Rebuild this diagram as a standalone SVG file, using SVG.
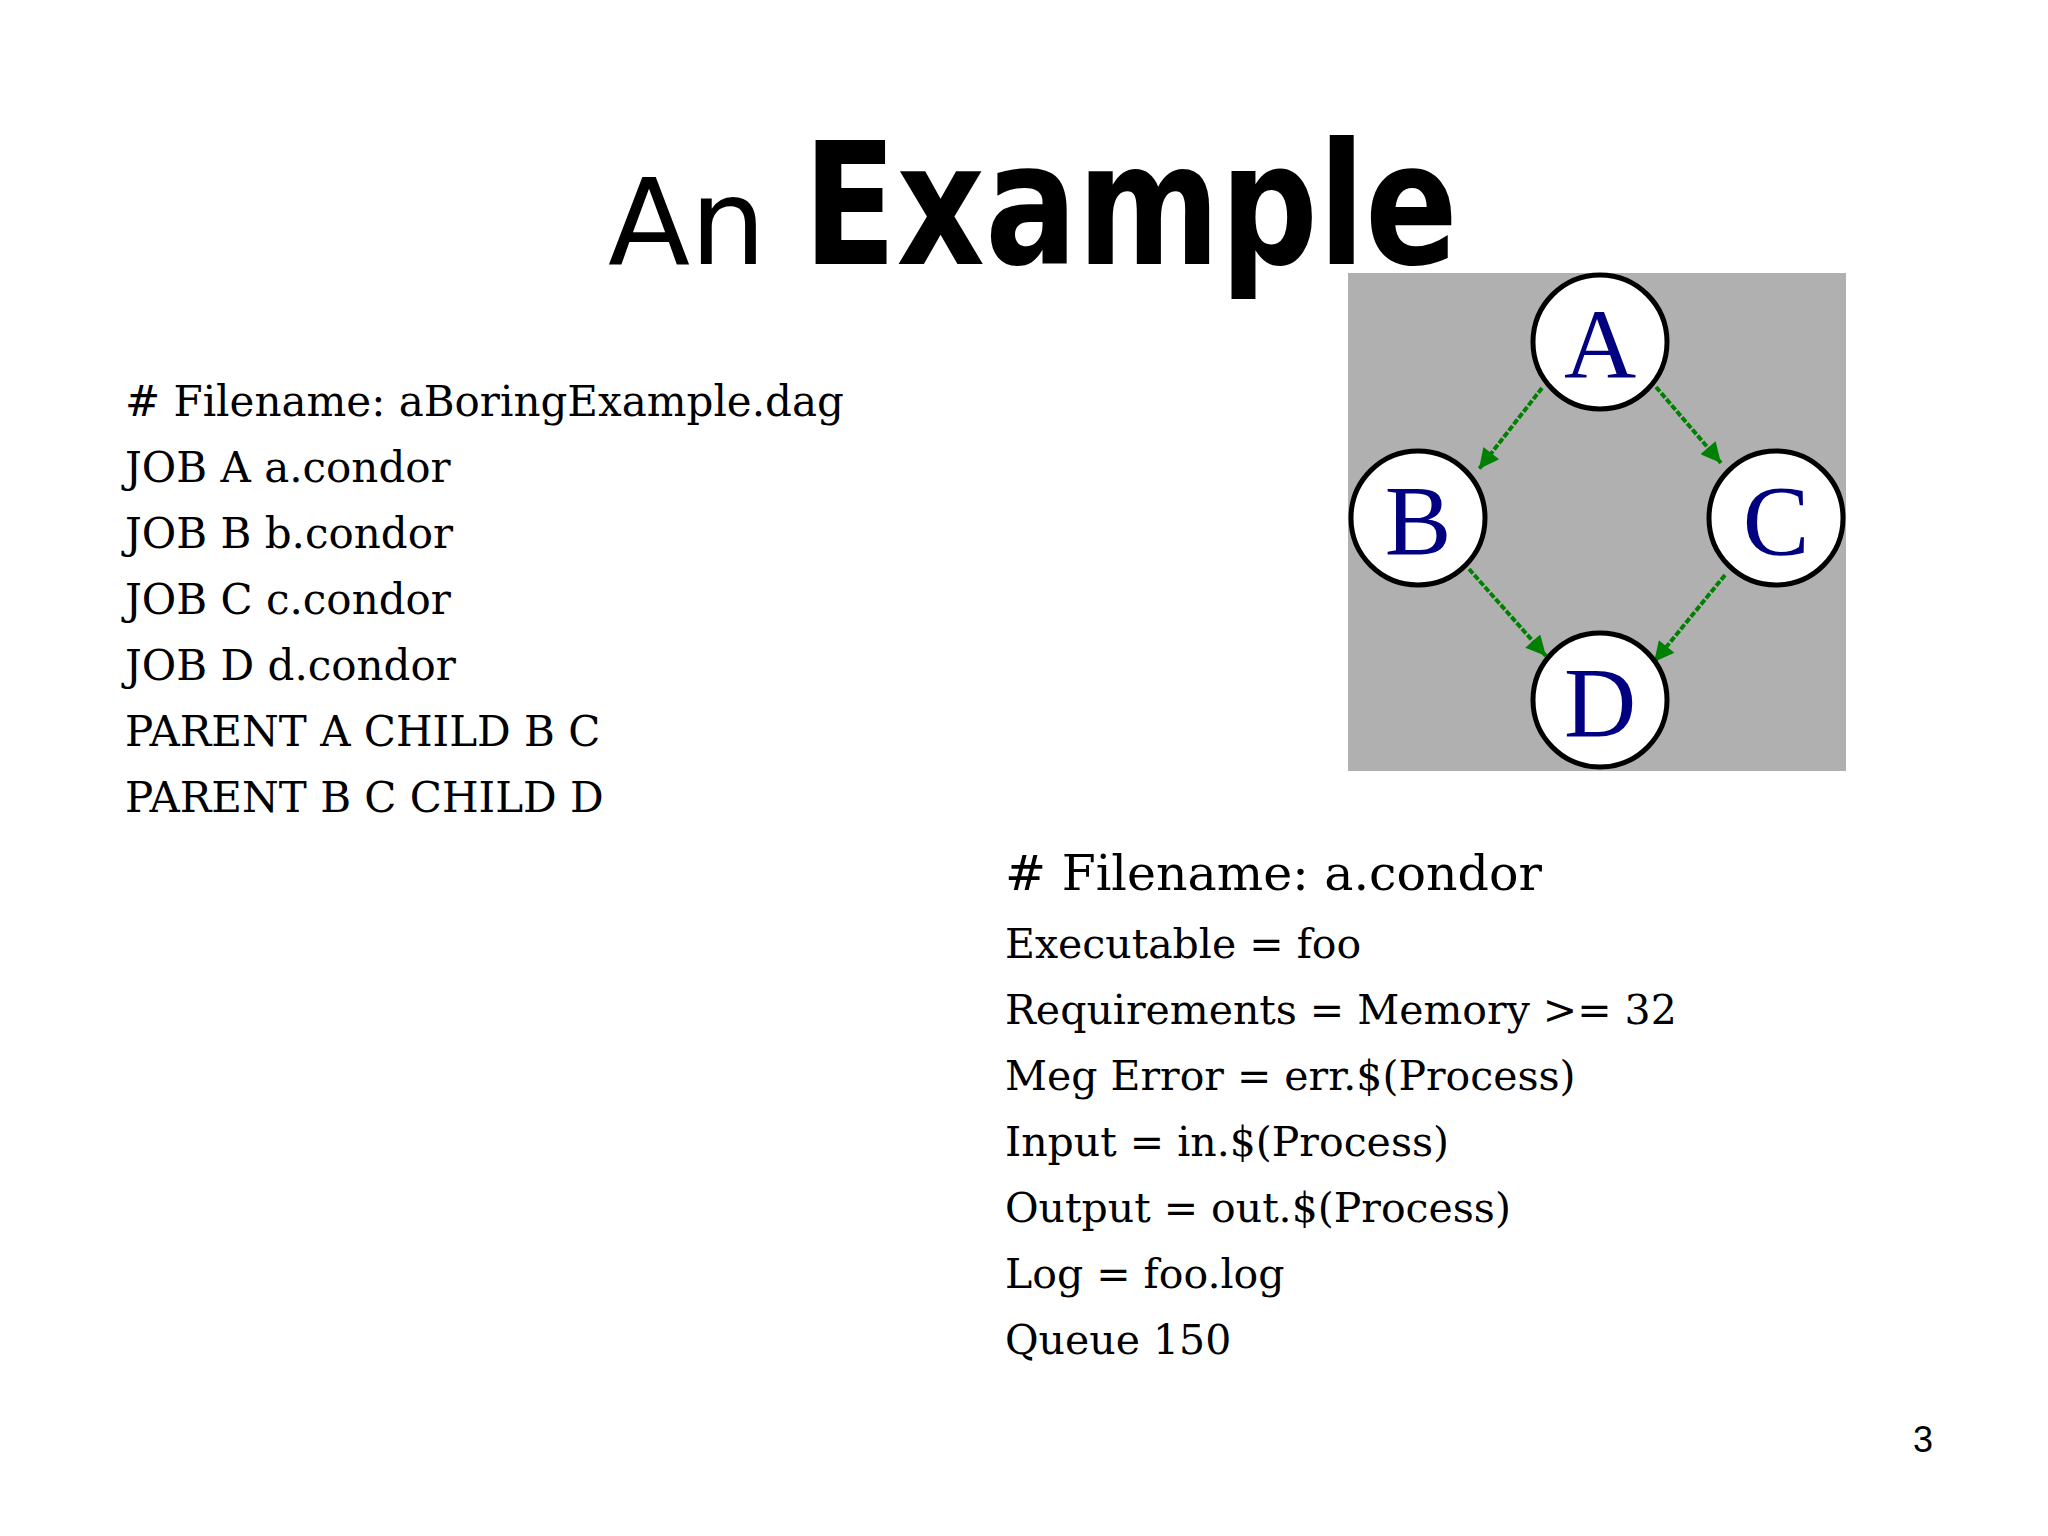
<svg xmlns="http://www.w3.org/2000/svg" width="2048" height="1536" viewBox="0 0 2048 1536">
<style>
.code{font-family:"DejaVu Serif","Liberation Serif",serif;font-size:42px;fill:#000}
.r{font-size:41px}
.node circle{fill:#fff;stroke:#000;stroke-width:5}
.node text{font-family:"Liberation Serif",serif;font-size:100px;fill:#000080;text-anchor:middle}
.edge{stroke:#008000;stroke-width:4;stroke-dasharray:6 2;marker-end:url(#ah)}
</style>
<defs><marker id="ah" viewBox="0 0 10 10" refX="10" refY="5" markerWidth="9" markerHeight="5" orient="auto"><path d="M0,0L10,5L0,10z" fill="#008000"/></marker></defs>
<rect width="2048" height="1536" fill="#fff"/>
<text x="608" y="264" font-family="Comic Sans MS,'DejaVu Sans',sans-serif" font-size="120">An</text>
<text x="803" y="264" font-family="Comic Sans MS,'DejaVu Sans',sans-serif" font-size="170" font-weight="600" textLength="655" lengthAdjust="spacingAndGlyphs">Example</text>
<rect x="1348" y="273" width="498" height="498" fill="#b0b0b0"/>
<g id="connectors">
<line class="edge" x1="1542" y1="388" x2="1479" y2="469"/>
<line class="edge" x1="1656" y1="387" x2="1721" y2="463"/>
<line class="edge" x1="1469" y1="569" x2="1546" y2="656"/>
<line class="edge" x1="1725" y1="575" x2="1654" y2="662"/>
</g>
<g id="A" class="node"><circle cx="1600" cy="342" r="67"/><text x="1600" y="378">A</text></g>
<g id="B" class="node"><circle cx="1418" cy="518" r="67"/><text x="1418" y="554">B</text></g>
<g id="C" class="node"><circle cx="1776" cy="518" r="67"/><text x="1776" y="554">C</text></g>
<g id="D" class="node"><circle cx="1600" cy="700" r="67"/><text x="1600" y="736">D</text></g>
<g class="code">
<text x="125" y="416">#  Filename: aBoringExample.dag</text>
<text x="125" y="482">JOB A a.condor</text>
<text x="125" y="548">JOB B b.condor</text>
<text x="125" y="614">JOB C c.condor</text>
<text x="125" y="680">JOB D d.condor</text>
<text x="125" y="746">PARENT A CHILD B C</text>
<text x="125" y="812">PARENT B C CHILD D</text>
<text x="1005" y="890" font-size="49">#  Filename: a.condor</text>
<text class="r" x="1005" y="958">Executable = foo</text>
<text class="r" x="1005" y="1024">Requirements = Memory &gt;= 32</text>
<text class="r" x="1005" y="1090">Meg Error = err.$(Process)</text>
<text class="r" x="1005" y="1156">Input = in.$(Process)</text>
<text class="r" x="1005" y="1222">Output = out.$(Process)</text>
<text class="r" x="1005" y="1288">Log = foo.log</text>
<text class="r" x="1005" y="1354">Queue 150</text>
</g>
<text x="1913" y="1452" font-family="Liberation Sans,sans-serif" font-size="36">3</text>
</svg>
